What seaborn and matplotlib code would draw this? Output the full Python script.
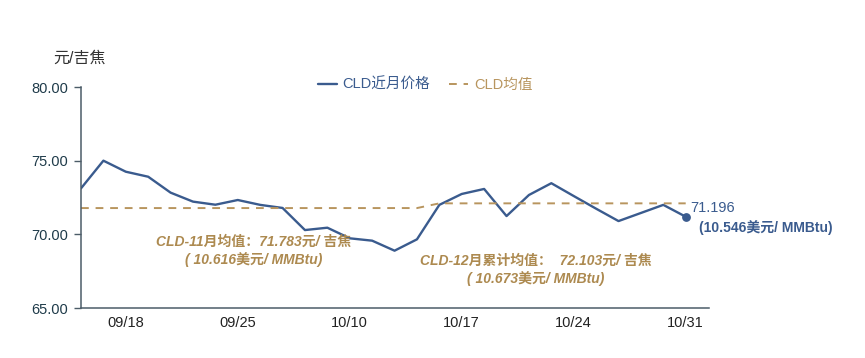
import matplotlib
matplotlib.use("Agg")
import matplotlib.pyplot as plt
import seaborn as sns
import pandas as pd

dates = ["09/16", "09/17", "09/18", "09/19", "09/22", "09/23", "09/24", "09/25",
         "09/26", "09/29", "09/30", "10/09", "10/10", "10/13", "10/14", "10/15",
         "10/16", "10/17", "10/20", "10/21", "10/22", "10/23", "10/24", "10/27",
         "10/28", "10/29", "10/30", "10/31"]
price = [73.12, 75.00, 74.25, 73.91, 72.83, 72.22, 72.01, 72.33, 72.00, 71.79,
         70.29, 70.45, 69.73, 69.57, 68.89, 69.66, 72.00, 72.74, 73.08, 71.24,
         72.67, 73.47, 72.60, 71.74, 70.90, 71.45, 72.00, 71.196]
mean_val = [71.783] * 16 + [72.103] * 12
shown_ticks = ["09/18", "09/25", "10/10", "10/17", "10/24", "10/31"]
yticks = [65, 70, 75, 80]

series_price = "CLD近月价格"
series_mean = "CLD均值"

BLUE = "#3a5b8e"
GOLD = "#b8955e"
GOLD_TXT = "#ad8a50"
TEAL = "#1f3b4a"
SPINE = "#4c5c68"

sns.set_theme(style="white")
plt.rcParams["font.family"] = ["Liberation Sans", "Noto Sans CJK SC", "DejaVu Sans"]
plt.rcParams["axes.unicode_minus"] = False

df = pd.DataFrame({"idx": list(range(len(dates))), "date": dates,
                   series_price: price, series_mean: mean_val})

fig = plt.figure(figsize=(8.65, 3.58), dpi=100)
ax = fig.add_axes([81 / 865, 1 - 308 / 358, (709 - 81) / 865, (308 - 87) / 358])

sns.lineplot(data=df, x="idx", y=series_price, ax=ax, color=BLUE, linewidth=1.7,
             label=series_price)
sns.lineplot(data=df, x="idx", y=series_mean, ax=ax, color=GOLD, linewidth=1.4,
             linestyle=(0, (4, 3.5)), label=series_mean)
ax.scatter([df["idx"].iloc[-1]], [df[series_price].iloc[-1]], s=28, color=BLUE,
           zorder=5)

ax.set_xlim(0, 28.04)
ax.set_ylim(65, 80)
ax.set_yticks(yticks)
ax.set_yticklabels([f"{v:.2f}" for v in yticks], fontsize=10.5, color=TEAL)
tick_pos = [dates.index(d) for d in shown_ticks]
ax.set_xticks(tick_pos)
ax.set_xticklabels(shown_ticks, fontsize=10.5, color="#222222")
ax.tick_params(axis="y", which="both", left=True, length=5, width=1, color=SPINE, pad=4)
ax.tick_params(axis="x", which="both", bottom=False, length=0, pad=6)
ax.set_xlabel("")
ax.set_ylabel("")

for s in ["top", "right"]:
    ax.spines[s].set_visible(False)
for s in ["left", "bottom"]:
    ax.spines[s].set_color(SPINE)
    ax.spines[s].set_linewidth(1.1)

fig.text(80 / 865, 1 - 58 / 358, "元/吉焦", fontsize=11.5, color="#333333",
         ha="center", va="center")

leg = ax.legend(loc="center", bbox_to_anchor=(425 / 865, 1 - 85 / 358),
                bbox_transform=fig.transFigure, ncol=2, frameon=False,
                fontsize=10.5, handlelength=1.3, handletextpad=0.4,
                columnspacing=1.3)
for txt, col in zip(leg.get_texts(), [BLUE, GOLD]):
    txt.set_color(col)

ann_kw = dict(fontsize=10, fontweight="bold", fontstyle="italic", color=GOLD_TXT,
              ha="center", va="center")
ax.text(7.7, 69.5, "CLD-11月均值：71.783元/ 吉焦", **ann_kw)
ax.text(7.7, 68.26, "( 10.616美元/ MMBtu)", **ann_kw)
ax.text(20.3, 68.21, "CLD-12月累计均值：  72.103元/ 吉焦", **ann_kw)
ax.text(20.3, 67.03, "( 10.673美元/ MMBtu)", **ann_kw)

ax.text(27.2, 71.79, "71.196", fontsize=10.5, color=BLUE, ha="left", va="center",
        clip_on=False)
ax.text(27.6, 70.43, "(10.546美元/ MMBtu)", fontsize=10, fontweight="bold",
        color=BLUE, ha="left", va="center", clip_on=False)

fig.savefig("out.png", dpi=100)
